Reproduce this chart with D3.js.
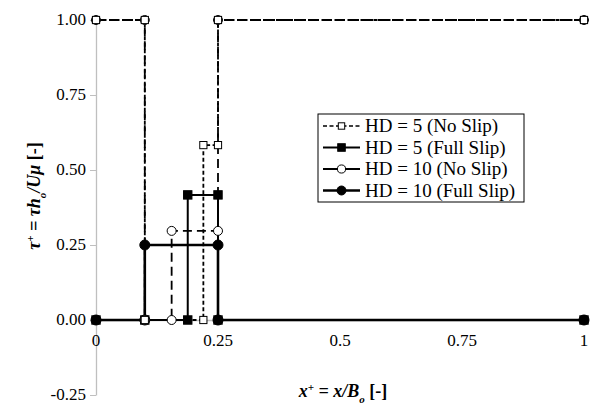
<!DOCTYPE html>
<html>
<head>
<meta charset="utf-8">
<script src="https://cdn.jsdelivr.net/npm/d3@7"></script>
</head>
<body style="margin:0">
<svg id="chart" width="593" height="405"></svg>
<script>
// step profiles, [x+, tau+]
const hd5NoSlip = [[0, 1], [0.1, 1], [0.1, 0], [0.22, 0], [0.22, 0.583], [0.25, 0.583], [0.25, 1], [1, 1]];
const hd5FullSlip = [[0, 0], [0.1, 0], [0.188, 0], [0.188, 0.417], [0.25, 0.417], [0.25, 0], [1, 0]];
const hd10NoSlip = [[0, 1], [0.1, 1], [0.1, 0], [0.155, 0], [0.155, 0.297], [0.25, 0.297], [0.25, 1], [1, 1]];
const hd10FullSlip = [[0, 0], [0.1, 0], [0.1, 0.25], [0.25, 0.25], [0.25, 0], [1, 0]];

const xTicks = [0, 0.25, 0.5, 0.75, 1];
const yTicks = [-0.25, 0, 0.25, 0.5, 0.75, 1];
const seriesNames = ["HD = 5 (No Slip)", "HD = 5 (Full Slip)", "HD = 10 (No Slip)", "HD = 10 (Full Slip)"];

const serif = "'Times New Roman', monospace";
const svg = d3.select("#chart");

const x = d3.scaleLinear().domain([0, 1]).range([96, 584]);
const y = d3.scaleLinear().domain([-0.25, 1]).range([395, 20]);

// y axis, gray, ticks pointing left; labels drawn as own texts
const yAxis = svg.append("g").attr("transform", "translate(" + x(0) + ",0)")
  .call(d3.axisLeft(y).tickValues(yTicks).tickSize(6).tickSizeOuter(0).tickFormat(""));
yAxis.select(".domain").attr("stroke", "#bfbfbf").attr("stroke-width", 1.3);
yAxis.selectAll(".tick line").attr("stroke", "#bfbfbf");
svg.selectAll(".ylab").data(yTicks).enter().append("text")
  .attr("x", x(0) - 10).attr("y", d => y(d) + 5).attr("text-anchor", "end")
  .attr("font-size", 17).style("font-family", serif)
  .text(d => d3.format(".2f")(d).replace("−", "-"));

// x axis along tau = 0
const xAxis = svg.append("g").attr("transform", "translate(0," + y(0) + ")")
  .call(d3.axisBottom(x).tickValues(xTicks).tickSize(0).tickFormat(""));
xAxis.select(".domain").attr("stroke", "#bfbfbf").attr("stroke-width", 1.3);
svg.selectAll(".xlab").data(xTicks).enter().append("text")
  .attr("x", d => x(d)).attr("y", y(0) + 26).attr("text-anchor", "middle")
  .attr("font-size", 17).style("font-family", serif)
  .text(d => String(d));

const line = d3.line().x(d => x(d[0])).y(d => y(d[1]));

const series = [
  { data: hd10FullSlip, dash: null, width: 2.6, marker: "circle", fill: "#000", size: 5 },
  { data: hd5FullSlip, dash: null, width: 2, marker: "square", fill: "#000", size: 4.2 },
  { data: hd10NoSlip, dash: "9,5", width: 1.8, marker: "circle", fill: "#fff", size: 4.5 },
  { data: hd5NoSlip, dash: "4,2.5", width: 1.8, marker: "square", fill: "#fff", size: 3.6 }
];

function drawMarker(g, type, cx, cy, s, fill) {
  if (type === "circle") {
    g.append("circle").attr("cx", cx).attr("cy", cy).attr("r", s)
      .attr("fill", fill).attr("stroke", "#000").attr("stroke-width", 1);
  } else {
    g.append("rect").attr("x", cx - s).attr("y", cy - s).attr("width", 2 * s).attr("height", 2 * s)
      .attr("fill", fill).attr("stroke", "#000").attr("stroke-width", 1);
  }
}

series.forEach(s => {
  svg.append("path").datum(s.data).attr("d", line)
    .attr("fill", "none").attr("stroke", "#000").attr("stroke-width", s.width)
    .attr("stroke-dasharray", s.dash);
});
series.forEach(s => {
  const g = svg.append("g");
  s.data.forEach(d => drawMarker(g, s.marker, x(d[0]), y(d[1]), s.size, s.fill));
});

// legend
const legend = svg.append("g").attr("transform", "translate(318,114)");
legend.append("rect").attr("width", 206).attr("height", 88)
  .attr("fill", "#fff").attr("stroke", "#000").attr("stroke-width", 1);
const order = [3, 1, 2, 0];
order.forEach((si, i) => {
  const s = series[si];
  const cy = 12 + i * 21.5;
  legend.append("line").attr("x1", 5).attr("x2", 42).attr("y1", cy).attr("y2", cy)
    .attr("stroke", "#000").attr("stroke-width", si === 3 ? 1.6 : s.width)
    .attr("stroke-dasharray", si === 3 ? "4,2.5" : null);
  const size = si === 3 ? 3.2 : s.size * 0.9;
  drawMarker(legend, s.marker, 23.5, cy, size, s.fill);
  legend.append("text").attr("x", 47).attr("y", cy + 6)
    .attr("font-size", 19).style("font-family", serif)
    .text(seriesNames[i]);
});

// axis titles
const yt = svg.append("text").attr("transform", "translate(40,196) rotate(-90)")
  .attr("text-anchor", "middle").attr("font-size", 18).style("font-family", serif)
  .attr("font-weight", "bold").attr("font-style", "italic");
yt.append("tspan").text("τ");
yt.append("tspan").attr("baseline-shift", "super").attr("font-size", 11).text("+");
yt.append("tspan").text(" = τh");
yt.append("tspan").attr("baseline-shift", "sub").attr("font-size", 11).text("o");
yt.append("tspan").text("/Uμ ");
yt.append("tspan").attr("font-style", "normal").text("[-]");

const xt = svg.append("text").attr("x", 343).attr("y", 397)
  .attr("text-anchor", "middle").attr("font-size", 18).style("font-family", serif)
  .attr("font-weight", "bold").attr("font-style", "italic");
xt.append("tspan").text("x");
xt.append("tspan").attr("baseline-shift", "super").attr("font-size", 11).text("+");
xt.append("tspan").text(" = x/B");
xt.append("tspan").attr("baseline-shift", "sub").attr("font-size", 11).text("o");
xt.append("tspan").text(" ");
xt.append("tspan").attr("font-style", "normal").text("[-]");
</script>
</body>
</html>
